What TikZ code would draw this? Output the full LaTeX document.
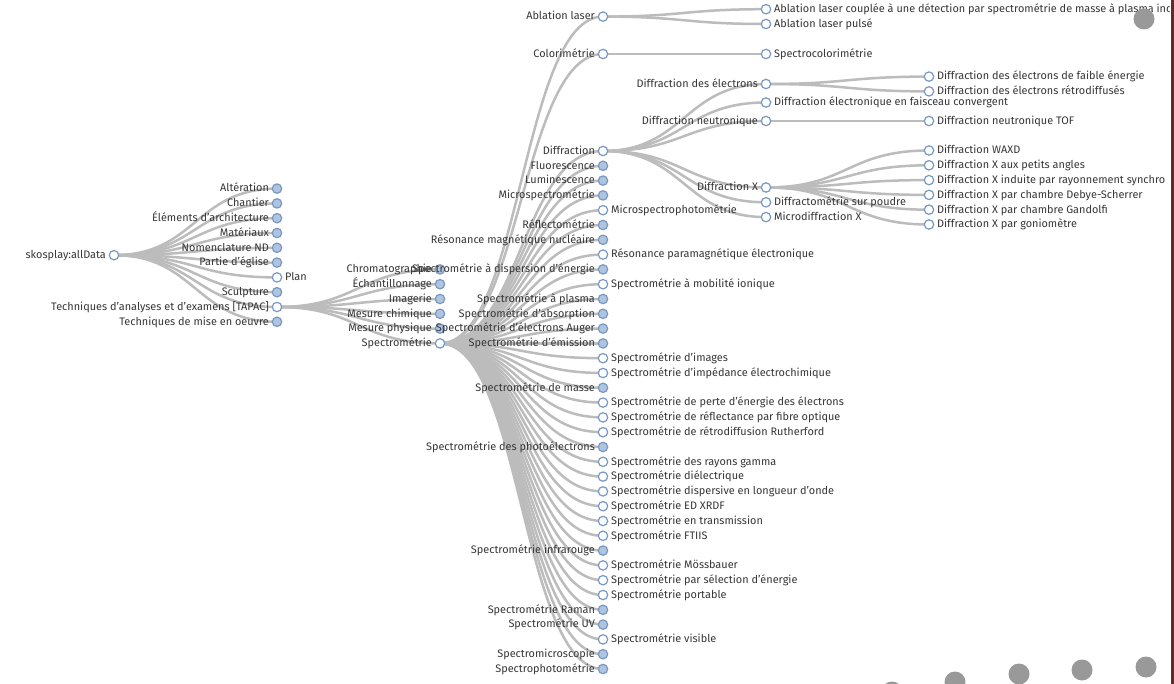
\documentclass[tikz,border=0pt]{standalone}
\usepackage{fontspec}
\setmainfont{Fira Sans}
\usetikzlibrary{calc}
\pgfdeclarelayer{bottom}
\pgfdeclarelayer{background}
\pgfsetlayers{bottom,background,main}
\definecolor{linkgray}{RGB}{188,188,188}
\definecolor{ringblue}{RGB}{118,152,196}
\definecolor{foldblue}{RGB}{176,196,222}
\definecolor{labeltext}{RGB}{55,55,55}
\definecolor{dotgray}{RGB}{153,153,153}
\definecolor{edgestrip}{RGB}{104,40,36}
% horizontal diagonal link between two tree nodes
\newcommand\treelink[2]{\draw[link] let \p1=(#1.center), \p2=(#2.center) in
  (\p1) .. controls ({0.5*\x1+0.5*\x2},\y1) and ({0.5*\x1+0.5*\x2},\y2) .. (\p2);}
\begin{document}
\begin{tikzpicture}[x=1pt,y=-1pt,
  open/.style={circle,draw=ringblue,line width=1.2pt,fill=white,minimum size=9.4pt,inner sep=0pt},
  fold/.style={open,fill=foldblue},
  lt/.style={text=labeltext,font=\fontsize{10.9}{13}\selectfont,inner sep=0pt,text height=8.2pt,text depth=1.5pt},
  label distance=2.6pt,
  every label/.style={lt},
  link/.style={draw=linkgray,line width=2.5pt},
  graydot/.style={fill=dotgray}]
\useasboundingbox (0,0) rectangle (1174,684);
\begin{pgfonlayer}{bottom}
  \fill[white] (0,0) rectangle (1174,684);
\end{pgfonlayer}
\begin{scope}
\clip (0,0) rectangle (1169,684);
% root
\node[open,label={left:{skosplay:allData}}] (root) at (114,255.2) {};
% first level
\node[fold,label={left:{Altération}}] (alt) at (277,188.6) {};
\node[fold,label={left:{Chantier}}] (cha) at (277,203.4) {};
\node[fold,label={left:{Éléments d'architecture}}] (ele) at (277,218.2) {};
\node[fold,label={left:{Matériaux}}] (mat) at (277,233.0) {};
\node[fold,label={left:{Nomenclature ND}}] (nom) at (277,247.8) {};
\node[fold,label={left:{Partie d'église}}] (par) at (277,262.6) {};
\node[open,label={right:{Plan}}] (plan) at (277,277.4) {};
\node[fold,label={left:{Sculpture}}] (scu) at (277,292.2) {};
\node[open,label={left:{Techniques d'analyses et d'examens [TAPAC]}}] (tap) at (277,307.0) {};
\node[fold,label={left:{Techniques de mise en oeuvre}}] (mise) at (277,321.8) {};
% second level
\node[fold,label={left:{Chromatographie}}] (chr) at (440,269.4) {};
\node[fold,label={left:{Échantillonnage}}] (ech) at (440,284.2) {};
\node[fold,label={left:{Imagerie}}] (ima) at (440,299.0) {};
\node[fold,label={left:{Mesure chimique}}] (mch) at (440,313.8) {};
\node[fold,label={left:{Mesure physique}}] (mph) at (440,328.6) {};
\node[open,label={left:{Spectrométrie}}] (spe) at (440,343.4) {};
% third level
\node[open,label={left:{Ablation laser}}] (abl) at (603,16.6) {};
\node[open,label={left:{Colorimétrie}}] (col) at (603,54.0) {};
\node[open,label={left:{Diffraction}}] (dif) at (603,151.0) {};
\node[fold,label={left:{Fluorescence}}] (flu) at (603,165.8) {};
\node[fold,label={left:{Luminescence}}] (lum) at (603,180.6) {};
\node[fold,label={left:{Microspectrométrie}}] (msm) at (603,195.4) {};
\node[open,label={right:{Microspectrophotométrie}}] (msp) at (603,210.2) {};
\node[fold,label={left:{Réflectométrie}}] (ref) at (603,225.0) {};
\node[fold,label={left:{Résonance magnétique nucléaire}}] (rmn) at (603,239.8) {};
\node[open,label={right:{Résonance paramagnétique électronique}}] (rpe) at (603,254.6) {};
\node[fold,label={left:{Spectrométrie à dispersion d'énergie}}] (sde) at (603,269.4) {};
\node[open,label={right:{Spectrométrie à mobilité ionique}}] (smi) at (603,284.2) {};
\node[fold,label={left:{Spectrométrie à plasma}}] (spl) at (603,299.0) {};
\node[fold,label={left:{Spectrométrie d'absorption}}] (sab) at (603,313.8) {};
\node[fold,label={left:{Spectrométrie d'électrons Auger}}] (sau) at (603,328.6) {};
\node[fold,label={left:{Spectrométrie d'émission}}] (sem) at (603,343.4) {};
\node[open,label={right:{Spectrométrie d'images}}] (sim) at (603,358.2) {};
\node[open,label={right:{Spectrométrie d'impédance électrochimique}}] (sie) at (603,373.0) {};
\node[fold,label={left:{Spectrométrie de masse}}] (sma) at (603,387.8) {};
\node[open,label={right:{Spectrométrie de perte d'énergie des électrons}}] (spd) at (603,402.6) {};
\node[open,label={right:{Spectrométrie de réflectance par fibre optique}}] (srf) at (603,417.4) {};
\node[open,label={right:{Spectrométrie de rétrodiffusion Rutherford}}] (srr) at (603,432.2) {};
\node[fold,label={left:{Spectrométrie des photoélectrons}}] (spt) at (603,447.0) {};
\node[open,label={right:{Spectrométrie des rayons gamma}}] (srg) at (603,461.8) {};
\node[open,label={right:{Spectrométrie diélectrique}}] (sdi) at (603,476.6) {};
\node[open,label={right:{Spectrométrie dispersive en longueur d'onde}}] (sdl) at (603,491.4) {};
\node[open,label={right:{Spectrométrie ED XRDF}}] (sed) at (603,506.2) {};
\node[open,label={right:{Spectrométrie en transmission}}] (stm) at (603,521.0) {};
\node[open,label={right:{Spectrométrie FTIIS}}] (sft) at (603,535.8) {};
\node[fold,label={left:{Spectrométrie infrarouge}}] (sir) at (603,550.6) {};
\node[open,label={right:{Spectrométrie Mössbauer}}] (smo) at (603,565.4) {};
\node[open,label={right:{Spectrométrie par sélection d'énergie}}] (sse) at (603,580.2) {};
\node[open,label={right:{Spectrométrie portable}}] (spo) at (603,595.0) {};
\node[fold,label={left:{Spectrométrie Raman}}] (sra) at (603,609.8) {};
\node[fold,label={left:{Spectrométrie UV}}] (suv) at (603,624.6) {};
\node[open,label={right:{Spectrométrie visible}}] (svi) at (603,639.4) {};
\node[fold,label={left:{Spectromicroscopie}}] (smc) at (603,654.2) {};
\node[fold,label={left:{Spectrophotométrie}}] (sph) at (603,669.0) {};
% fourth level
\node[open,label={right:{Ablation laser couplée à une détection par spectrométrie de masse à plasma ind}}] (alc) at (766,9.2) {};
\node[open,label={right:{Ablation laser pulsé}}] (alp) at (766,24.0) {};
\node[open,label={right:{Spectrocolorimétrie}}] (spc) at (766,54.0) {};
\node[open,label={left:{Diffraction des électrons}}] (dde) at (766,84.0) {};
\node[open,label={right:{Diffraction électronique en faisceau convergent}}] (dec) at (766,102.5) {};
\node[open,label={left:{Diffraction neutronique}}] (dne) at (766,121.0) {};
\node[open,label={left:{Diffraction X}}] (dx) at (766,187.5) {};
\node[open,label={right:{Diffractométrie sur poudre}}] (dsp) at (766,202.3) {};
\node[open,label={right:{Microdiffraction X}}] (mdx) at (766,217.1) {};
% fifth level
\node[open,label={right:{Diffraction des électrons de faible énergie}}] (dfe) at (929,76.6) {};
\node[open,label={right:{Diffraction des électrons rétrodiffusés}}] (der) at (929,91.4) {};
\node[open,label={right:{Diffraction neutronique TOF}}] (dto) at (929,121.0) {};
\node[open,label={right:{Diffraction WAXD}}] (dwa) at (929,150.5) {};
\node[open,label={right:{Diffraction X aux petits angles}}] (dpa) at (929,165.3) {};
\node[open,label={right:{Diffraction X induite par rayonnement synchro}}] (dsy) at (929,180.1) {};
\node[open,label={right:{Diffraction X par chambre Debye-Scherrer}}] (dds) at (929,194.9) {};
\node[open,label={right:{Diffraction X par chambre Gandolfi}}] (dga) at (929,209.7) {};
\node[open,label={right:{Diffraction X par goniomètre}}] (dgo) at (929,224.5) {};
% links, behind the nodes
\begin{pgfonlayer}{background}
  \foreach \c in {alt,cha,ele,mat,nom,par,plan,scu,tap,mise} {\treelink{root}{\c}}
  \foreach \c in {chr,ech,ima,mch,mph,spe} {\treelink{tap}{\c}}
  \foreach \c in {abl,col,dif,flu,lum,msm,msp,ref,rmn,rpe,sde,smi,spl,sab,sau,sem,sim,sie,
    sma,spd,srf,srr,spt,srg,sdi,sdl,sed,stm,sft,sir,smo,sse,spo,sra,suv,svi,smc,sph} {\treelink{spe}{\c}}
  \foreach \c in {alc,alp} {\treelink{abl}{\c}}
  \treelink{col}{spc}
  \foreach \c in {dde,dec,dne,dx,dsp,mdx} {\treelink{dif}{\c}}
  \foreach \c in {dfe,der} {\treelink{dde}{\c}}
  \treelink{dne}{dto}
  \foreach \c in {dwa,dpa,dsy,dds,dga,dgo} {\treelink{dx}{\c}}
\end{pgfonlayer}
% grey dots along the edges
\fill[graydot] (1144,19) circle (10.5);
\fill[graydot] (892,692) circle (10.5);
\fill[graydot] (955,682) circle (10.5);
\fill[graydot] (1019,674) circle (10.5);
\fill[graydot] (1082,670) circle (10.5);
\fill[graydot] (1146,667) circle (10.5);
\end{scope}
% dark strip on the right edge
\fill[edgestrip] (1171,0) rectangle (1174,684);
\end{tikzpicture}
\end{document}
